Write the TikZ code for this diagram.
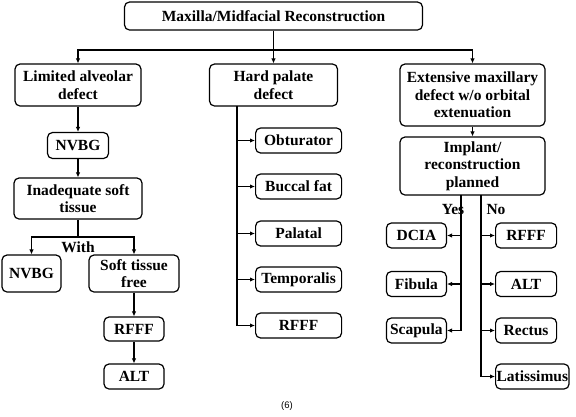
\documentclass[tikz,border=0pt]{standalone}
\usepackage{fontspec}
\setmainfont{Liberation Serif}
\newfontfamily\capfont{Liberation Sans}
\usetikzlibrary{arrows.meta}
\tikzset{
    flow-box/.style = {draw=black, fill=white, line width=1.2pt, rectangle, rounded corners=5pt, align=center, inner sep=1pt, font=\fontsize{15.5}{17.5}\selectfont\bfseries},
    flow-arrow/.style = {line width=1.2pt, -{Latex[length=5pt,width=4.5pt]}},
    flow-line/.style = {line width=1.2pt},
    flow-label/.style = {inner sep=0pt, font=\fontsize{15.5}{17.5}\selectfont\bfseries},
}

\begin{document}
\begin{tikzpicture}[x=1pt,y=-1pt]
\useasboundingbox (0,0) rectangle (576,416);
\node[flow-box, minimum width=298pt, minimum height=28pt] (top) at (273.5,16) {Maxilla/Midfacial Reconstruction};
\node[flow-box, minimum width=126pt, minimum height=42pt] (lim) at (78,85) {Limited alveolar\\defect};
\node[flow-box, minimum width=128pt, minimum height=42pt] (hard) at (273.5,85) {Hard palate\\defect};
\node[flow-box, minimum width=145pt, minimum height=62pt] (ext) at (472.5,95) {Extensive maxillary\\defect w/o orbital\\extenuation};

\node[flow-box, minimum width=61pt, minimum height=26pt] (nvbgA) at (78,145.5) {NVBG};
\node[flow-box, minimum width=128pt, minimum height=41pt] (inad) at (78,198.5) {Inadequate soft\\tissue};
\node[flow-box, minimum width=59pt, minimum height=37pt] (nvbgB) at (31.5,273.5) {NVBG};
\node[flow-box, minimum width=90pt, minimum height=37pt] (stf) at (134,273.5) {Soft tissue\\free};
\node[flow-box, minimum width=60pt, minimum height=24pt] (rfffA) at (134,329) {RFFF};
\node[flow-box, minimum width=60pt, minimum height=25pt] (altA) at (134,376.5) {ALT};

\node[flow-box, minimum width=86pt, minimum height=25pt, anchor=west] (obt) at (255,140.5) {Obturator};
\node[flow-box, minimum width=86pt, minimum height=25pt, anchor=west] (bfat) at (255,186.5) {Buccal fat};
\node[flow-box, minimum width=86pt, minimum height=25pt, anchor=west] (pal) at (255,233.5) {Palatal};
\node[flow-box, minimum width=86pt, minimum height=25pt, anchor=west] (temp) at (255,279.5) {Temporalis};
\node[flow-box, minimum width=86pt, minimum height=25pt, anchor=west] (rfffB) at (255,325.5) {RFFF};

\node[flow-box, minimum width=145pt, minimum height=58pt] (impl) at (472.5,166) {Implant/\\reconstruction\\planned};
\node[flow-box, minimum width=60pt, minimum height=25pt, anchor=east] (dcia) at (447,235.5) {DCIA};
\node[flow-box, minimum width=60pt, minimum height=25pt, anchor=east] (fib) at (447,284) {Fibula};
\node[flow-box, minimum width=60pt, minimum height=25pt, anchor=east] (scap) at (447,330.5) {Scapula};
\node[flow-box, minimum width=61pt, minimum height=25pt, anchor=west] (rfffC) at (495,235.5) {RFFF};
\node[flow-box, minimum width=61pt, minimum height=25pt, anchor=west] (altC) at (495,284) {ALT};
\node[flow-box, minimum width=61pt, minimum height=25pt, anchor=west] (rect) at (495,330.5) {Rectus};
\node[flow-box, minimum width=61pt, minimum height=25pt, anchor=west] (lat) at (495,376.5) {Latissimus};

\coordinate (split) at (273.5,50);
\coordinate (with-split) at (78,237);
\coordinate (hard-stem) at (237,106);
\coordinate (yes-stem) at (461,195);
\coordinate (no-stem) at (481,195);

\draw[flow-arrow] (top) -- (hard);
\draw[flow-arrow] (split) -| (lim.north);
\draw[flow-arrow] (split) -| (ext.north);
\draw[flow-arrow] (lim) -- (nvbgA);
\draw[flow-arrow] (nvbgA) -- (inad);
\draw[flow-line] (inad.south) -- (with-split);
\draw[flow-arrow] (with-split) -| (nvbgB.north);
\draw[flow-arrow] (with-split) -| (stf.north);
\draw[flow-arrow] (stf) -- (rfffA);
\draw[flow-arrow] (rfffA) -- (altA);
\foreach \n in {obt,bfat,pal,temp,rfffB}
    \draw[flow-arrow] (hard-stem) |- (\n.west);
\draw[flow-arrow] (ext) -- (impl);
\foreach \n in {dcia,fib,scap}
    \draw[flow-arrow] (yes-stem) |- (\n.east);
\foreach \n in {rfffC,altC,rect,lat}
    \draw[flow-arrow] (no-stem) |- (\n.west);

\node[flow-label] (with) at (78,247) {With};
\node[flow-label] (yes) at (453,209) {Yes};
\node[flow-label] (no) at (496,209) {No};
\node[font=\capfont\fontsize{9.5}{11}\selectfont] (fig-num) at (287,406) {(6)};
\end{tikzpicture}
\end{document}
